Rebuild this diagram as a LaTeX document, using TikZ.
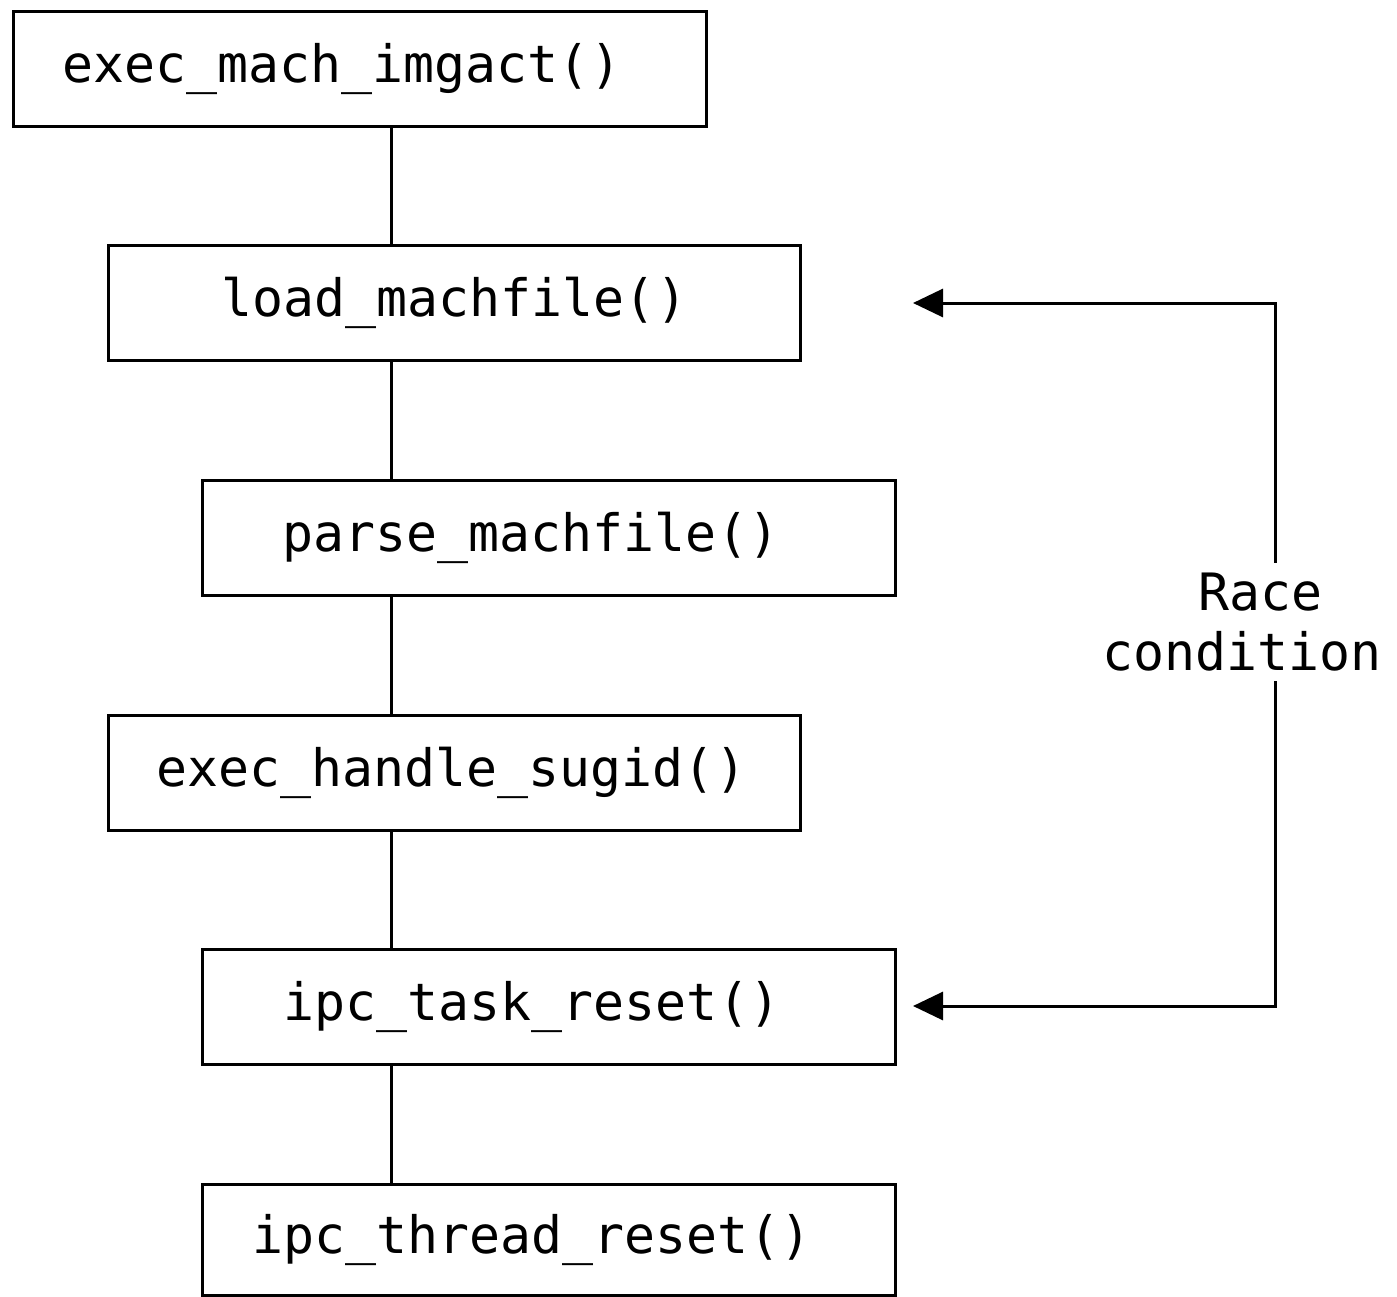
\documentclass[tikz,border=0pt]{standalone}
\usepackage{fontspec}
\setmonofont{DejaVu Sans Mono}
\usetikzlibrary{arrows.meta}
\tikzset{
  x=1pt, y=1pt,
  fnbox/.style={draw=black, line width=3pt, rectangle, outer sep=0pt, inner sep=0pt,
    minimum height=115pt},
  fnlabel/.style={inner sep=0pt, font=\ttfamily\fontsize{51.5}{60}\selectfont, text=black},
  link/.style={draw=black, line width=3pt},
  race/.style={link, {Triangle[length=30pt,width=28pt]}-{Triangle[length=30pt,width=28pt]}},
}
\begin{document}
\begin{tikzpicture}
  \useasboundingbox[fill=white] (0,0) rectangle (1397,-1297);

  % call chain boxes
  \node[fnbox, minimum width=693pt] (imgact) at (360,-69) {};
  \node[fnbox, minimum width=692pt] (load)   at (454.5,-303) {};
  \node[fnbox, minimum width=693pt] (parse)  at (549,-538) {};
  \node[fnbox, minimum width=692pt] (sugid)  at (454.5,-772.5) {};
  \node[fnbox, minimum width=693pt] (task)   at (549,-1007) {};
  \node[fnbox, minimum width=693pt, minimum height=111pt] (thread) at (549,-1239.5) {};

  % function names
  \node[fnlabel] (timgact) at ([xshift=-18pt]imgact.center) {exec\_mach\_imgact()};
  \node[fnlabel] (tload)   at (load.center)   {load\_machfile()};
  \node[fnlabel] (tparse)  at ([xshift=-18pt]parse.center)  {parse\_machfile()};
  \node[fnlabel] (tsugid)  at ([xshift=-3pt]sugid.center)  {exec\_handle\_sugid()};
  \node[fnlabel] (ttask)   at ([xshift=-17pt]task.center)   {ipc\_task\_reset()};
  \node[fnlabel] (tthread) at ([xshift=-17pt]thread.center) {ipc\_thread\_reset()};

  % vertical spine linking the calls
  \coordinate (spine) at (391,0);
  \draw[link] (imgact.south -| spine) -- (load.north -| spine);
  \draw[link] (load.south -| spine)   -- (parse.north -| spine);
  \draw[link] (parse.south -| spine)  -- (sugid.north -| spine);
  \draw[link] (sugid.south -| spine)  -- (task.north -| spine);
  \draw[link] (task.south -| spine)   -- (thread.north -| spine);

  % race condition bracket
  \coordinate (rtop) at (1275,-303);
  \coordinate (rbot) at (1275,-1006);
  \coordinate (ttop) at (913,-303);
  \coordinate (tbot) at (913,-1006);
  \draw[race] (ttop) -- (rtop) -- (rbot) -- (tbot);
  \node[fnlabel, fill=white, inner xsep=0pt, inner ysep=10pt, align=center] (racelbl) at (1242,-622)
    {\hspace*{36pt}Race\\condition};
\end{tikzpicture}
\end{document}
